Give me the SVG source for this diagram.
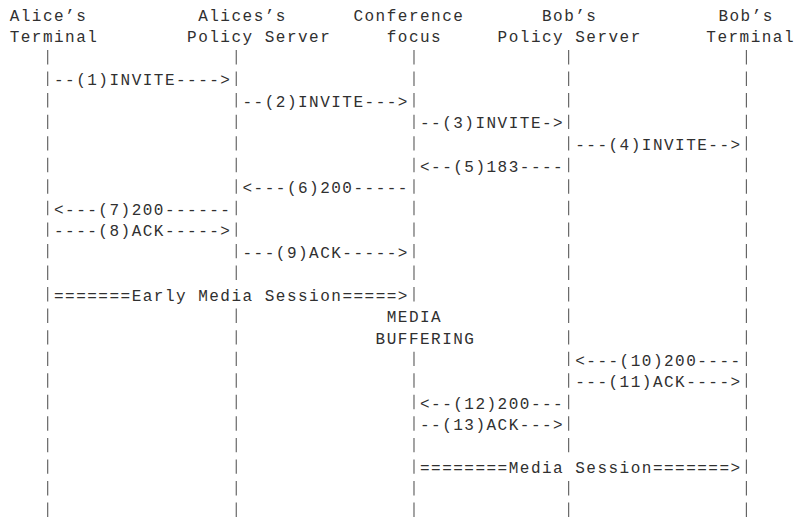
<svg xmlns="http://www.w3.org/2000/svg" width="795" height="519" viewBox="0 0 795 519">
<style>
  text { font-family: "Liberation Mono", "DejaVu Sans Mono", monospace; font-size: 16px; letter-spacing: 1.49px; fill: #303030; }
  .life { stroke: #5a5a5a; stroke-width: 1.1; stroke-dasharray: 14.4 7.15; fill: none; }
</style>
<rect width="795" height="519" fill="#ffffff"/>

<g id="alice-terminal">
  <text x="9.65" y="20.7">Alice’s</text>
  <text x="9.65" y="42.25">Terminal</text>
  <line class="life" x1="47.7" y1="50" x2="47.7" y2="517"/>
</g>

<g id="alice-policy-server">
  <text x="198.18" y="20.7">Alices’s</text>
  <text x="187.09" y="42.25">Policy Server</text>
  <line class="life" x1="236.25" y1="50" x2="236.25" y2="279.9"/>
  <line class="life" x1="236.25" y1="308.6" x2="236.25" y2="517"/>
</g>

<g id="conference-focus">
  <text x="353.44" y="20.7">Conference</text>
  <text x="386.71" y="42.25">focus</text>
  <line class="life" x1="413.99" y1="50" x2="413.99" y2="301.5"/>
  <line class="life" x1="413.99" y1="351.7" x2="413.99" y2="517"/>
</g>

<g id="bob-policy-server">
  <text x="541.97" y="20.7">Bob’s</text>
  <text x="497.61" y="42.25">Policy Server</text>
  <line class="life" x1="568.66" y1="50" x2="568.66" y2="452.3"/>
  <line class="life" x1="568.66" y1="481" x2="568.66" y2="517"/>
</g>

<g id="bob-terminal">
  <text x="718.4" y="20.7">Bob’s</text>
  <text x="706.3" y="42.25" style="letter-spacing:0" textLength="87.2" lengthAdjust="spacing">Terminal</text>
  <line class="life" x1="746.38" y1="50" x2="746.38" y2="517"/>
</g>

<g id="media-buffering">
  <text x="386.71" y="322.4">MEDIA</text>
  <text x="375.62" y="343.95">BUFFERING</text>
</g>

<g id="connectors">
  <text x="54.01" y="85.35">--(1)INVITE----&gt;</text>
  <text x="242.54" y="106.9">--(2)INVITE---&gt;</text>
  <text x="419.98" y="128.45">--(3)INVITE-&gt;</text>
  <text x="575.24" y="150">---(4)INVITE--&gt;</text>
  <text x="419.98" y="171.55">&lt;--(5)183----</text>
  <text x="242.54" y="193.1">&lt;---(6)200-----</text>
  <text x="54.01" y="214.65">&lt;---(7)200------</text>
  <text x="54.01" y="236.2">----(8)ACK-----&gt;</text>
  <text x="242.54" y="257.75">---(9)ACK-----&gt;</text>
  <text x="54.01" y="300.85">=======Early Media Session=====&gt;</text>
  <text x="575.24" y="365.5">&lt;---(10)200----</text>
  <text x="575.24" y="387.05">---(11)ACK----&gt;</text>
  <text x="419.98" y="408.6">&lt;--(12)200---</text>
  <text x="419.98" y="430.15">--(13)ACK---&gt;</text>
  <text x="419.98" y="473.25">========Media Session=======&gt;</text>
</g>
</svg>
